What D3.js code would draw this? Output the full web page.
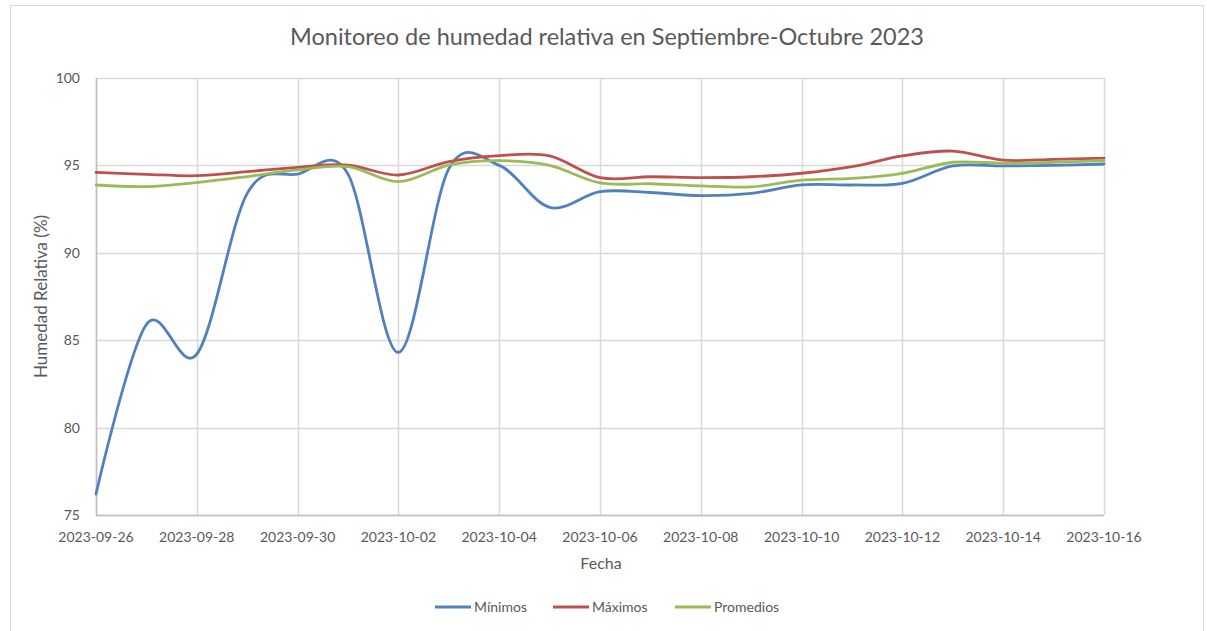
<!DOCTYPE html>
<html>
<head>
<meta charset="utf-8">
<script src="https://cdn.jsdelivr.net/npm/d3@7"></script>
<style>
  body { margin: 0; background: #fff; }
  text { font-family: Lato, "Open Sans", sans-serif; fill: #595959; }
</style>
</head>
<body>
<div id="chart"></div>
<script>
var fechas = ["2023-09-26","2023-09-27","2023-09-28","2023-09-29","2023-09-30","2023-10-01","2023-10-02",
  "2023-10-03","2023-10-04","2023-10-05","2023-10-06","2023-10-07","2023-10-08","2023-10-09",
  "2023-10-10","2023-10-11","2023-10-12","2023-10-13","2023-10-14","2023-10-15","2023-10-16"];
var minimos = [76.2, 85.9, 84.2, 93.4, 94.5, 94.5, 84.3, 94.8, 95.0, 92.6, 93.5, 93.45, 93.27, 93.4,
  93.88, 93.88, 93.97, 94.97, 94.97, 95.0, 95.08];
var maximos = [94.6, 94.49, 94.41, 94.64, 94.89, 95.02, 94.45, 95.22, 95.56, 95.55, 94.3, 94.35, 94.3, 94.35,
  94.55, 94.93, 95.54, 95.82, 95.3, 95.35, 95.42];
var promedios = [93.88, 93.79, 94.02, 94.36, 94.74, 94.93, 94.07, 95.02, 95.27, 95.0, 94.0, 93.95, 93.83, 93.77,
  94.16, 94.26, 94.55, 95.18, 95.12, 95.18, 95.27];
var yTicks = [75, 80, 85, 90, 95, 100];
var xTicks = ["2023-09-26","2023-09-28","2023-09-30","2023-10-02","2023-10-04","2023-10-06",
  "2023-10-08","2023-10-10","2023-10-12","2023-10-14","2023-10-16"];

var series = [
  {name: "Mínimos", values: minimos, color: "#4f81bd"},
  {name: "Máximos", values: maximos, color: "#c0504d"},
  {name: "Promedios", values: promedios, color: "#9bbb59"}
];

var width = 1207, height = 631;
var margin = {left: 96, right: 103, top: 78, bottom: 116};
var parse = d3.timeParse("%Y-%m-%d");

var x = d3.scaleTime()
  .domain([parse(fechas[0]), parse(fechas[fechas.length - 1])])
  .range([margin.left, width - margin.right]);
var y = d3.scaleLinear()
  .domain([75, 100])
  .range([height - margin.bottom, margin.top]);

var svg = d3.select("#chart").append("svg")
  .attr("width", width)
  .attr("height", height);

// chart border
svg.append("rect")
  .attr("x", 10.5).attr("y", 5.5)
  .attr("width", 1193).attr("height", 640)
  .attr("fill", "none").attr("stroke", "#d9d9d9");

// gridlines
svg.append("g").selectAll("line").data(yTicks).enter().append("line")
  .attr("x1", margin.left).attr("x2", width - margin.right)
  .attr("y1", function(d){return Math.round(y(d)) + 0.5;})
  .attr("y2", function(d){return Math.round(y(d)) + 0.5;})
  .attr("stroke", "#d9d9d9").attr("stroke-width", 1.5);
svg.append("g").selectAll("line").data(xTicks).enter().append("line")
  .attr("x1", function(d){return Math.round(x(parse(d))) + 0.5;})
  .attr("x2", function(d){return Math.round(x(parse(d))) + 0.5;})
  .attr("y1", margin.top).attr("y2", height - margin.bottom)
  .attr("stroke", "#d9d9d9").attr("stroke-width", 1.5);

// axes lines
svg.append("line")
  .attr("x1", margin.left + 0.5).attr("x2", margin.left + 0.5)
  .attr("y1", margin.top).attr("y2", height - margin.bottom)
  .attr("stroke", "#bfbfbf").attr("stroke-width", 1.5);
svg.append("line")
  .attr("x1", margin.left).attr("x2", width - margin.right)
  .attr("y1", height - margin.bottom + 0.5).attr("y2", height - margin.bottom + 0.5)
  .attr("stroke", "#bfbfbf").attr("stroke-width", 1.5);

// tick labels
svg.append("g").selectAll("text").data(yTicks).enter().append("text")
  .attr("x", 80).attr("y", function(d){return y(d) + 5;})
  .attr("text-anchor", "end").style("font-size", "14px")
  .text(function(d){return d;});
svg.append("g").selectAll("text").data(xTicks).enter().append("text")
  .attr("x", function(d){return x(parse(d));}).attr("y", height - margin.bottom + 27)
  .attr("text-anchor", "middle").style("font-size", "14px")
  .text(function(d){return d;});

// titles
svg.append("text")
  .attr("x", 607).attr("y", 45)
  .attr("text-anchor", "middle").style("font-size", "23.5px")
  .text("Monitoreo de humedad relativa en Septiembre-Octubre 2023");
svg.append("text")
  .attr("x", 601).attr("y", 569)
  .attr("text-anchor", "middle").style("font-size", "16px")
  .text("Fecha");
svg.append("text")
  .attr("transform", "translate(47," + ((margin.top + height - margin.bottom) / 2) + ") rotate(-90)")
  .attr("text-anchor", "middle").style("font-size", "17px")
  .text("Humedad Relativa (%)");

// lines
var line = d3.line()
  .x(function(d, i){return x(parse(fechas[i]));})
  .y(function(d){return y(d);})
  .curve(d3.curveCardinal.tension(0));

svg.append("g").selectAll("path").data(series).enter().append("path")
  .attr("d", function(s){return line(s.values);})
  .attr("fill", "none")
  .attr("stroke", function(s){return s.color;})
  .attr("stroke-width", 2.8)
  .attr("stroke-linejoin", "round")
  .attr("stroke-linecap", "round");

// legend
var legendX = [435, 553, 675];
var legend = svg.append("g").selectAll("g").data(series).enter().append("g")
  .attr("transform", function(d, i){return "translate(" + legendX[i] + ",607)";});
legend.append("line")
  .attr("x1", 0).attr("x2", 36)
  .attr("stroke", function(d){return d.color;})
  .attr("stroke-width", 2.8);
legend.append("text")
  .attr("x", 39).attr("y", 5)
  .style("font-size", "14px")
  .text(function(d){return d.name;});
</script>
</body>
</html>
